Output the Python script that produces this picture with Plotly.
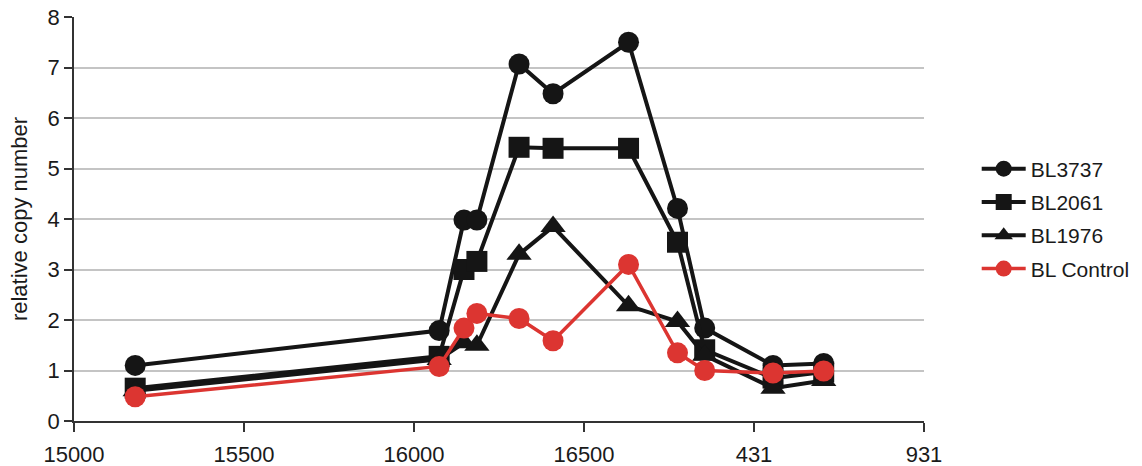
import plotly.graph_objects as go

# positions along the (wrapped) genome axis; 17000 -> 431, 17500 -> 931
positions = [15180, 16074, 16147, 16185, 16309, 16409, 16631, 16775, 16855, 17056, 17205]
bl3737 = [1.10, 1.79, 3.98, 3.98, 7.07, 6.48, 7.50, 4.21, 1.84, 1.10, 1.14]
bl2061 = [0.65, 1.28, 3.00, 3.16, 5.42, 5.40, 5.40, 3.54, 1.41, 0.85, 0.97]
bl1976 = [0.60, 1.22, 1.55, 1.50, 3.30, 3.85, 2.28, 1.97, 1.30, 0.65, 0.80]
bl_control = [0.48, 1.08, 1.84, 2.13, 2.03, 1.59, 3.10, 1.35, 1.00, 0.95, 0.99]

tick_vals = [15000, 15500, 16000, 16500, 17000, 17500]
tick_text = ["15000", "15500", "16000", "16500", "431", "931"]

BLACK = "#151515"
RED = "#dc3531"
FONT = "Liberation Sans, Arial, sans-serif"

fig = go.Figure()
series = [
    ("BL3737", bl3737, BLACK, "circle", 21, 4),
    ("BL2061", bl2061, BLACK, "square", 21, 4),
    ("BL1976", bl1976, BLACK, "triangle-up", 22, 4),
    ("BL Control", bl_control, RED, "circle", 21, 3.5),
]
for name, vals, col, sym, size, lw in series:
    fig.add_trace(go.Scatter(
        x=positions, y=vals, name=name, mode="lines+markers", legendgroup=name,
        line=dict(color=col, width=lw),
        marker=dict(symbol=sym, size=size, color=col, line=dict(width=0)),
    ))

fig.update_layout(
    width=1142, height=466,
    margin=dict(l=74, r=218, t=17, b=45, autoexpand=False),
    paper_bgcolor="white", plot_bgcolor="white",
    font=dict(family=FONT, size=22, color="#1a1a1a"),
    showlegend=True,
    legend=dict(x=1.062, xanchor="left", y=0.5, yanchor="middle", itemwidth=44,
                font=dict(size=21), bgcolor="rgba(0,0,0,0)", tracegroupgap=3),
    xaxis=dict(range=[15000, 17500], tickmode="array", tickvals=tick_vals, ticktext=tick_text,
               showgrid=False, zeroline=False, showline=True, linecolor="#333333", linewidth=1.5,
               ticks="outside", ticklen=9, tickwidth=1.5, tickcolor="#333333",
               ticklabelstandoff=4, tickfont=dict(size=22), automargin=False),
    yaxis=dict(range=[0, 8], dtick=1, showgrid=True, gridcolor="#c4c4c4", gridwidth=1.5,
               zeroline=False, showline=True, linecolor="#333333", linewidth=1.5,
               ticks="outside", ticklen=8, tickwidth=1.5, tickcolor="#333333",
               tickfont=dict(size=22), automargin=False,
               title=dict(text="relative copy number", font=dict(size=22), standoff=14)),
)

fig.write_html("out.html")
